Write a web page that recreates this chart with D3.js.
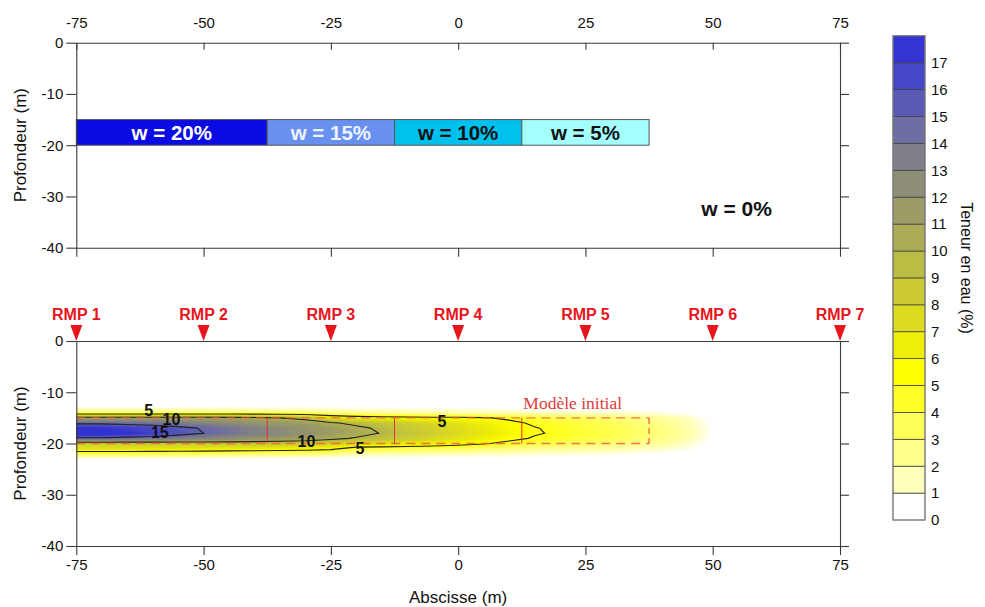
<!DOCTYPE html>
<html><head><meta charset="utf-8">
<script src="https://cdn.jsdelivr.net/npm/d3@7"></script>
<style>
body{margin:0;background:#fff;}
svg{display:block;font-family:"Liberation Sans",Arial,sans-serif;}
</style>
</head><body>
<svg id="chart" width="985" height="607"></svg>
<script>
// ---------------- data ----------------
const xTicks = [-75, -50, -25, 0, 25, 50, 75];
const depthTicks = [0, -10, -20, -30, -40];

const layerBounds = [-75, -37.5, -12.5, 12.5, 37.5];
const layerLabels = ["w = 20%", "w = 15%", "w = 10%", "w = 5%"];
const layerColors = ["#0a0ae2", "#6890ee", "#00c0ee", "#a4ffff"];
const layerTextColors = ["#ffffff", "#eef4ff", "#111111", "#111111"];
const layerDepth = [-15, -20];
const outsideLabel = "w = 0%";
const outsidePos = [54.7, -32.3];

const rmpNames = ["RMP 1", "RMP 2", "RMP 3", "RMP 4", "RMP 5", "RMP 6", "RMP 7"];
const rmpX = [-75, -50, -25, 0, 25, 50, 75];

// inverted water content (%) — one row per abscissa column, values at depths 12..24 m
const gridX = [-75, -70, -65, -60, -55, -50, -45, -40, -35, -30, -25, -20, -15, -10, -5, 0, 5, 10, 15, 20, 25, 30, 35, 40, 45, 50, 55];
const gridDepth = [-12, -13, -14, -15, -16, -17, -18, -19, -20, -21, -22, -23, -24];
const waterGrid = [
  [0, 0.8, 3.0, 11.0, 14.5, 17.5, 18.5, 14.5, 8.5, 7.0, 3.5, 0.5, 0],
  [0, 0.8, 3.0, 11.0, 14.5, 17.3, 18.2, 14.5, 8.5, 7.0, 3.5, 0.5, 0],
  [0, 0.8, 3.0, 11.0, 14.3, 16.8, 17.6, 14.2, 8.5, 7.0, 3.5, 0.5, 0],
  [0, 0.8, 3.0, 11.0, 14.0, 16.3, 16.8, 14.0, 8.5, 6.9, 3.4, 0.5, 0],
  [0, 0.8, 3.0, 11.0, 13.5, 15.6, 15.9, 13.5, 8.6, 6.8, 3.3, 0.5, 0],
  [0, 0.8, 3.0, 11.0, 13.0, 14.8, 15.0, 13.0, 8.7, 6.7, 3.2, 0.5, 0],
  [0, 0.8, 3.0, 10.8, 12.5, 14.0, 14.2, 12.5, 8.8, 6.6, 3.0, 0.5, 0],
  [0, 0.8, 3.0, 10.5, 12.0, 13.3, 13.5, 12.0, 8.8, 6.5, 2.9, 0.4, 0],
  [0, 0.7, 2.9, 10.0, 11.6, 12.6, 12.8, 11.6, 8.7, 6.3, 2.8, 0.4, 0],
  [0, 0.7, 2.8, 9.3, 11.2, 12.0, 12.2, 11.2, 8.6, 6.1, 2.7, 0.4, 0],
  [0, 0.7, 2.5, 7.0, 10.3, 11.3, 11.5, 10.5, 8.2, 5.6, 2.4, 0.4, 0],
  [0, 0.6, 2.2, 6.2, 9.4, 10.5, 10.7, 9.8, 7.5, 4.0, 1.8, 0.3, 0],
  [0, 0.6, 2.0, 5.8, 8.8, 9.6, 9.9, 9.2, 7.2, 3.9, 1.8, 0.3, 0],
  [0, 0.6, 1.9, 5.6, 8.2, 8.8, 9.0, 8.5, 6.8, 3.8, 1.7, 0.3, 0],
  [0, 0.5, 1.8, 5.5, 7.6, 8.1, 8.3, 7.8, 6.3, 3.6, 1.6, 0.3, 0],
  [0, 0.5, 1.7, 5.4, 7.0, 7.4, 7.5, 7.1, 5.8, 3.4, 1.5, 0.3, 0],
  [0, 0.5, 1.6, 5.2, 6.3, 6.7, 6.8, 6.4, 5.2, 3.1, 1.4, 0.2, 0],
  [0, 0.5, 1.5, 4.6, 5.5, 5.9, 6.0, 5.6, 4.4, 2.8, 1.3, 0.2, 0],
  [0, 0.4, 1.4, 4.0, 4.7, 5.1, 5.2, 4.8, 3.8, 2.5, 1.2, 0.2, 0],
  [0, 0.4, 1.3, 3.6, 4.3, 4.6, 4.7, 4.4, 3.5, 2.3, 1.1, 0.1, 0],
  [0, 0.4, 1.2, 3.3, 3.9, 4.1, 4.2, 4.0, 3.2, 2.1, 1.0, 0.1, 0],
  [0, 0.3, 1.1, 3.0, 3.5, 3.7, 3.8, 3.6, 2.9, 1.9, 0.9, 0.1, 0],
  [0, 0.3, 1.0, 2.6, 3.0, 3.2, 3.3, 3.1, 2.5, 1.6, 0.7, 0, 0],
  [0, 0.2, 0.8, 2.1, 2.5, 2.7, 2.8, 2.6, 2.1, 1.3, 0.5, 0, 0],
  [0, 0.1, 0.5, 1.4, 1.7, 1.9, 2.0, 1.8, 1.4, 0.8, 0.3, 0, 0],
  [0, 0, 0.1, 0.3, 0.4, 0.5, 0.5, 0.4, 0.3, 0.2, 0, 0, 0],
  [0, 0, 0, 0, 0, 0, 0, 0, 0, 0, 0, 0, 0]
];

const bandTicks = [0, 1, 2, 3, 4, 5, 6, 7, 8, 9, 10, 11, 12, 13, 14, 15, 16, 17];
const bandColors = ["#ffffff", "#ffffbc", "#ffff8c", "#ffff5a", "#ffff28", "#ffff00",
  "#eeee08", "#dcdc1e", "#cccc32", "#bcbc44", "#acac56", "#9c9c66", "#8e8e76",
  "#808088", "#6e6ea2", "#5a5ab6", "#4646c8", "#3434d2"];

const contourLevels = [5, 10, 15];
const contourLabelText = ["5", "10", "15", "10", "5", "5"];
const contourLabelX = [-60.8, -56.3, -58.6, -29.8, -19.3, -3.2];
const contourLabelDepth = [-13.5, -15.2, -17.8, -19.6, -20.9, -15.7];

const modelLabel = "Modèle initial";
const modelLabelPos = [22.5, -12.1];

// ---------------- layout ----------------
const svg = d3.select("#chart");
const x = d3.scaleLinear().domain([-75, 75]).range([76.3, 840]);
const yTop = d3.scaleLinear().domain([0, -40]).range([42.7, 247.7]);
const yBot = d3.scaleLinear().domain([0, -40]).range([341, 546]);
const axisColor = "#3a3a3a";
const fmt = d => String(d);

function styleAxis(g) {
  g.selectAll("path,line").attr("stroke", axisColor).attr("stroke-width", 1.1);
  g.selectAll("text").attr("font-size", 15).attr("fill", "#111").attr("font-family", "Liberation Sans, Arial, sans-serif");
}

// ---------- top panel ----------
const topPanel = svg.append("g");
topPanel.selectAll("rect.layer").data(layerLabels).join("rect")
  .attr("x", (d, i) => x(layerBounds[i]))
  .attr("width", (d, i) => x(layerBounds[i + 1]) - x(layerBounds[i]))
  .attr("y", yTop(layerDepth[0]))
  .attr("height", yTop(layerDepth[1]) - yTop(layerDepth[0]))
  .attr("fill", (d, i) => layerColors[i])
  .attr("stroke", "#555").attr("stroke-width", 1);
topPanel.selectAll("text.layer").data(layerLabels).join("text")
  .attr("x", (d, i) => (x(layerBounds[i]) + x(layerBounds[i + 1])) / 2)
  .attr("y", (yTop(layerDepth[0]) + yTop(layerDepth[1])) / 2)
  .attr("dy", "0.36em").attr("text-anchor", "middle")
  .attr("font-size", 20.5).attr("font-weight", "bold")
  .attr("fill", (d, i) => layerTextColors[i]).text(d => d);
topPanel.append("text").attr("x", x(outsidePos[0])).attr("y", yTop(outsidePos[1]))
  .attr("dy", "0.36em").attr("text-anchor", "middle")
  .attr("font-size", 21).attr("font-weight", "bold").attr("fill", "#111").text(outsideLabel);

topPanel.append("g").attr("transform", `translate(0,${yTop(0)})`)
  .call(d3.axisTop(x).tickValues(xTicks).tickSizeInner(-7).tickSizeOuter(0).tickPadding(14.5).tickFormat(fmt))
  .call(styleAxis);
topPanel.append("g").attr("transform", `translate(0,${yTop(-40)})`)
  .call(d3.axisBottom(x).tickValues(xTicks).tickSizeInner(9).tickSizeOuter(0).tickFormat(""))
  .call(styleAxis);
topPanel.append("g").attr("transform", `translate(${x(-75)},0)`)
  .call(d3.axisLeft(yTop).tickValues(depthTicks).tickSizeInner(10).tickSizeOuter(0).tickPadding(3).tickFormat(fmt))
  .call(styleAxis);
topPanel.append("g").attr("transform", `translate(${x(75)},0)`)
  .call(d3.axisRight(yTop).tickValues(depthTicks).tickSizeInner(9).tickSizeOuter(0).tickFormat(""))
  .call(styleAxis);
topPanel.append("text").attr("transform", `translate(20,${(yTop(0) + yTop(-40)) / 2}) rotate(-90)`)
  .attr("text-anchor", "middle").attr("dy", "0.36em").attr("font-size", 17).attr("fill", "#111")
  .text("Profondeur (m)");

// ---------- bottom panel ----------
const bot = svg.append("g");
const clip = svg.append("defs").append("clipPath").attr("id", "plotclip");
clip.append("rect").attr("x", x(-75)).attr("y", yBot(0)).attr("width", x(75) - x(-75)).attr("height", yBot(-40) - yBot(0));

const nx = gridX.length, ny = gridDepth.length;
const values = new Array(nx * ny);
for (let j = 0; j < ny; j++) for (let i = 0; i < nx; i++) values[j * nx + i] = waterGrid[i][j];
const gxToX = d3.scaleLinear().domain([0.5, nx - 0.5]).range([gridX[0], gridX[nx - 1]]);
const gyToD = d3.scaleLinear().domain([0.5, ny - 0.5]).range([gridDepth[0], gridDepth[ny - 1]]);
const path = d3.geoPath(d3.geoTransform({
  point(px, py) { this.stream.point(x(gxToX(px)), yBot(gyToD(py))); }
}));
const colorScale = d3.scaleLinear()
  .domain(bandTicks.map(v => v + 0.5))
  .range(bandColors).clamp(true);

const fillThresholds = d3.range(0.25, 18.6, 0.25);
const fields = d3.contours().size([nx, ny]).thresholds(fillThresholds)(values);
const fieldG = bot.append("g").attr("clip-path", "url(#plotclip)");
fieldG.selectAll("path.fill").data(fields).join("path")
  .attr("d", path)
  .attr("fill", d => colorScale(d.value + 0.125))
  .attr("stroke", d => colorScale(d.value + 0.125)).attr("stroke-width", 0.3);

// initial model (dashed)
const modelG = bot.append("g").attr("clip-path", "url(#plotclip)");
layerDepth.forEach(dp => {
  modelG.append("line").attr("x1", x(layerBounds[0])).attr("x2", x(layerBounds[layerBounds.length - 1]))
    .attr("y1", yBot(dp)).attr("y2", yBot(dp))
    .attr("stroke", "#f06040").attr("stroke-opacity", 0.85).attr("stroke-width", 1.3).attr("stroke-dasharray", "9,6");
});
layerBounds.slice(1).forEach((b, i) => {
  modelG.append("line").attr("x1", x(b)).attr("x2", x(b))
    .attr("y1", yBot(layerDepth[0])).attr("y2", yBot(layerDepth[1]))
    .attr("stroke", "#e83030").attr("stroke-width", 1)
    .attr("stroke-dasharray", i === layerBounds.length - 2 ? "6,4" : null);
});

// contour lines
const lines = d3.contours().size([nx, ny]).thresholds(contourLevels)(values);
fieldG.selectAll("path.line").data(lines).join("path")
  .attr("d", path).attr("fill", "none").attr("stroke", "#222").attr("stroke-width", 1.1);

bot.selectAll("text.clabel").data(contourLabelText).join("text")
  .attr("x", (d, i) => x(contourLabelX[i])).attr("y", (d, i) => yBot(contourLabelDepth[i]))
  .attr("dy", "0.36em").attr("text-anchor", "middle")
  .attr("font-size", 16).attr("font-weight", "bold").attr("fill", "#111").text(d => d);

bot.append("text").attr("x", x(modelLabelPos[0])).attr("y", yBot(modelLabelPos[1]))
  .attr("dy", "0.36em").attr("text-anchor", "middle")
  .attr("font-family", "Liberation Serif, Times New Roman, serif").attr("font-size", 17.5)
  .attr("fill", "#e03a3a").text(modelLabel);

// axes
bot.append("g").attr("transform", `translate(0,${yBot(0)})`)
  .call(d3.axisTop(x).tickValues([]).tickSizeOuter(0))
  .call(styleAxis);
bot.append("g").attr("transform", `translate(0,${yBot(-40)})`)
  .call(d3.axisBottom(x).tickValues(xTicks).tickSizeInner(9).tickSizeOuter(0).tickPadding(4).tickFormat(fmt))
  .call(styleAxis);
bot.append("g").attr("transform", `translate(${x(-75)},0)`)
  .call(d3.axisLeft(yBot).tickValues(depthTicks).tickSizeInner(10).tickSizeOuter(0).tickPadding(3).tickFormat(fmt))
  .call(styleAxis);
bot.append("g").attr("transform", `translate(${x(75)},0)`)
  .call(d3.axisRight(yBot).tickValues(depthTicks).tickSizeInner(9).tickSizeOuter(0).tickFormat(""))
  .call(styleAxis);
bot.append("text").attr("transform", `translate(20,${(yBot(0) + yBot(-40)) / 2}) rotate(-90)`)
  .attr("text-anchor", "middle").attr("dy", "0.36em").attr("font-size", 17).attr("fill", "#111")
  .text("Profondeur (m)");
bot.append("text").attr("x", (x(-75) + x(75)) / 2).attr("y", 597)
  .attr("dy", "0.36em").attr("text-anchor", "middle").attr("font-size", 17).attr("fill", "#111")
  .text("Abscisse (m)");

// RMP markers
const rmp = bot.selectAll("g.rmp").data(rmpNames).join("g")
  .attr("transform", (d, i) => `translate(${x(rmpX[i])},${yBot(0)})`);
rmp.append("path").attr("d", "M-6,-16 L6,-16 L0,0 Z").attr("fill", "#e8141c");
rmp.append("text").attr("y", -27).attr("dy", "0.36em").attr("text-anchor", "middle")
  .attr("font-size", 16).attr("font-weight", "bold").attr("fill", "#e8141c").text(d => d);

// ---------- colour bar ----------
const cb = svg.append("g");
const yC = d3.scaleLinear().domain([0, 18]).range([520, 35.8]);
cb.selectAll("rect").data(bandColors).join("rect")
  .attr("x", 893).attr("width", 32)
  .attr("y", (d, i) => yC(i + 1)).attr("height", (d, i) => yC(i) - yC(i + 1))
  .attr("fill", d => d).attr("stroke", "#444").attr("stroke-width", 0.8);
cb.append("rect").attr("x", 893).attr("y", yC(18)).attr("width", 32).attr("height", yC(0) - yC(18))
  .attr("fill", "none").attr("stroke", "#888").attr("stroke-width", 1);
cb.append("g").attr("transform", "translate(927,0)")
  .call(d3.axisRight(yC).tickValues(bandTicks).tickSize(0).tickPadding(4).tickFormat(fmt))
  .call(g => g.select(".domain").remove())
  .call(styleAxis);
cb.append("text").attr("transform", `translate(967,268) rotate(90)`)
  .attr("text-anchor", "middle").attr("dy", "0.36em").attr("font-size", 16).attr("fill", "#111")
  .text("Teneur en eau (%)");
</script>
</body></html>
